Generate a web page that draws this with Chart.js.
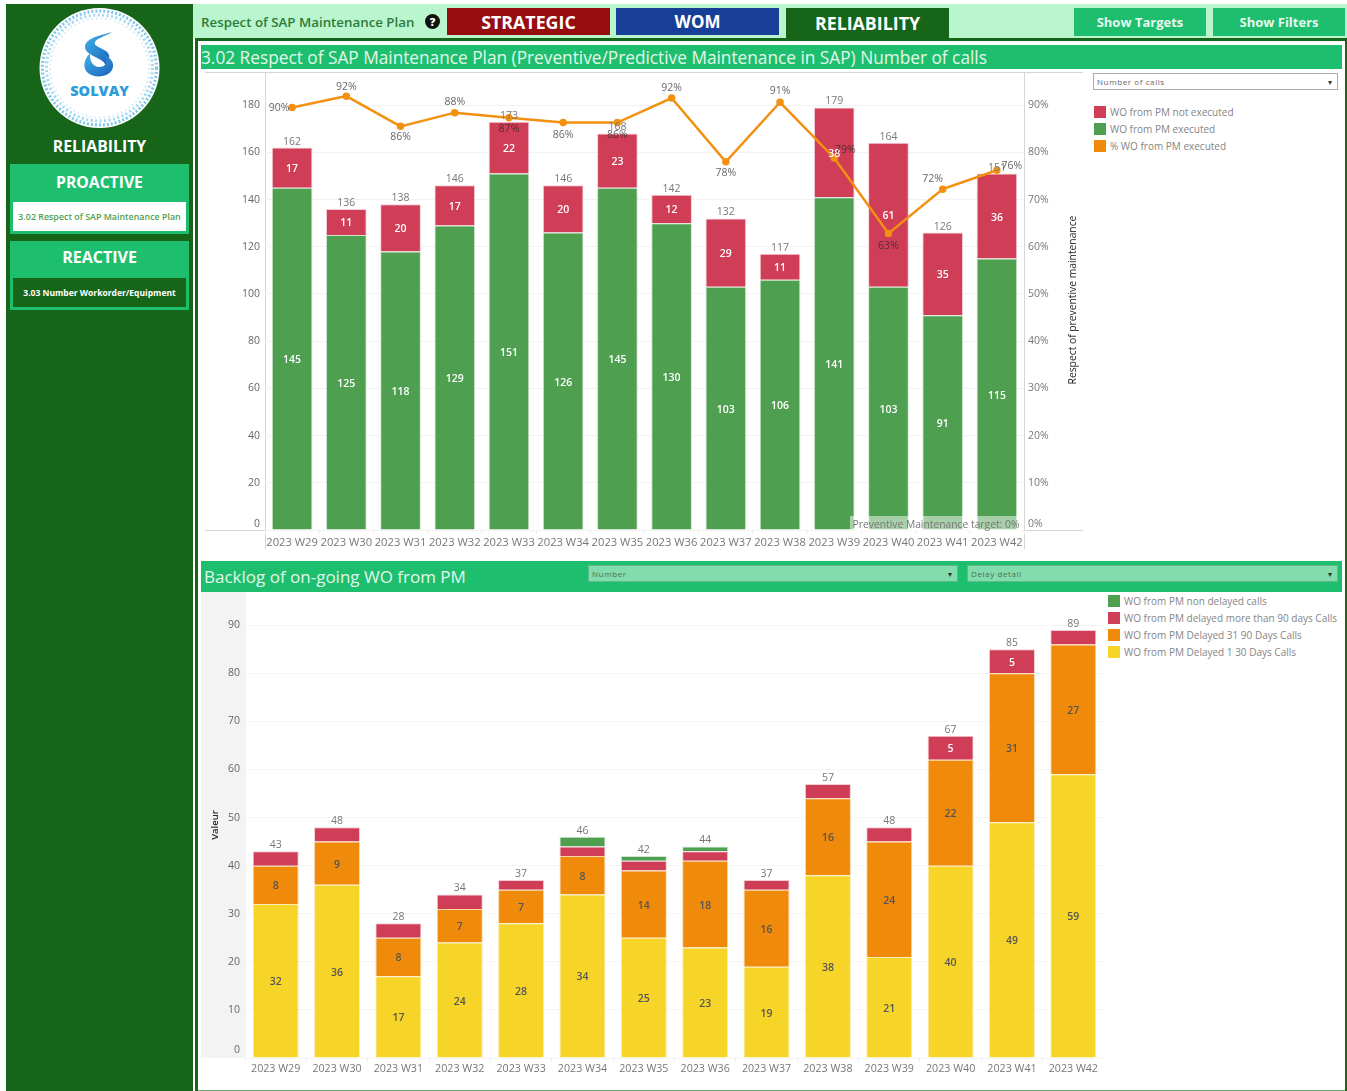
<!DOCTYPE html>
<html>
<head>
<meta charset="utf-8">
<title>Reliability</title>
<script src="https://cdn.jsdelivr.net/npm/chart.js@4"></script>
<style>
    html, body { margin: 0; padding: 0; background: #fff; }
    body { width: 1347px; height: 1091px; position: relative; overflow: hidden; font-family: "Open Sans", sans-serif; }
    .box { position: absolute; box-sizing: border-box; }
    .mid { display: flex; align-items: center; justify-content: center; white-space: nowrap; }
    .left { display: flex; align-items: center; white-space: nowrap; }
    canvas { position: absolute; display: block; }
    .drop { font-size: 8px; letter-spacing: .6px; padding-left: 3px; justify-content: space-between; }
    .drop i { font-style: normal; font-size: 8px; margin-right: 4px; color: #333; }
    .legend-item { position: absolute; height: 12px; font-size: 10px; color: #858585; white-space: nowrap; display: flex; align-items: center; }
    .legend-item b { display: block; width: 12px; height: 12px; margin-right: 4px; flex: none; }
    .rule { position: absolute; background: #d6d6d6; }
</style>
</head>
<body>
<!-- sidebar -->
<div class="box" style="left:6px;top:4px;width:187px;height:1087px;background:#176519"></div>
<svg class="box" style="left:38px;top:6px" width="124" height="124" viewBox="38 6 124 124">
    <defs>
        <linearGradient id="sGrad" x1="0" y1="0" x2="1" y2="1">
            <stop offset="0" stop-color="#3fb4e8"/>
            <stop offset="1" stop-color="#1d5fb8"/>
        </linearGradient>
    </defs>
    <circle cx="99.5" cy="68" r="60" fill="#fff"/>
    <circle cx="99.5" cy="68" r="57" fill="none" stroke="#7cc6ea" stroke-width="3" stroke-dasharray="2 2"/>
    <circle cx="99.5" cy="68" r="53" fill="none" stroke="#a5d8f0" stroke-width="3" stroke-dasharray="2 2.5"/>
    <circle cx="99.5" cy="68" r="49.5" fill="none" stroke="#cfeaf6" stroke-width="2" stroke-dasharray="1.5 3"/>
    <path d="M112 32 C103 35 87 37 85 46 C84 52 92 55 99 59 C103 61 105 63 105 65 C110 60 111 55 106 51 C100 47 93 46 95 42 C97 38 106 36 112 32 Z" fill="url(#sGrad)"/>
    <path d="M90 53 C84 59 82 68 88 73 C94 78 107 78 112 70 C115 64 112 59 106 56 C108 62 106 67 99 67 C93 67 89 60 90 53 Z" fill="url(#sGrad)"/>
    <text x="99.5" y="96" text-anchor="middle" font-family="Open Sans" font-weight="800" font-size="14.5" fill="#2a9cd8">SOLVAY</text>
</svg>
<div class="box mid" style="left:6px;top:136px;width:187px;height:20px;color:#fff;font-weight:700;font-size:15.8px">RELIABILITY</div>

<div class="box" style="left:10px;top:164px;width:179px;height:70px;background:#1dbf6e"></div>
<div class="box mid" style="left:10px;top:172px;width:179px;height:20px;color:#fff;font-weight:700;font-size:15.7px">PROACTIVE</div>
<div class="box mid" style="left:13px;top:202px;width:173px;height:29px;background:#fff;color:#4f9f51;font-weight:600;font-size:8.9px">3.02 Respect of SAP Maintenance Plan</div>

<div class="box" style="left:10px;top:241px;width:179px;height:69px;background:#1dbf6e"></div>
<div class="box mid" style="left:10px;top:247px;width:179px;height:20px;color:#fff;font-weight:700;font-size:16px">REACTIVE</div>
<div class="box mid" style="left:13px;top:278px;width:173px;height:29px;background:#176519;color:#fff;font-weight:700;font-size:8.5px">3.03 Number Workorder/Equipment</div>

<!-- top strip -->
<div class="box" style="left:193px;top:4px;width:1154px;height:34px;background:#b9f6cd"></div>
<div class="box left" style="left:201px;top:12px;height:20px;color:#2f7a3a;font-weight:600;font-size:13.3px">Respect of SAP Maintenance Plan</div>
<div class="box mid" style="left:425px;top:14px;width:15px;height:15px;border-radius:50%;background:#111;color:#fff;font-weight:800;font-size:11px">?</div>
<div class="box mid" style="left:447px;top:8px;width:163px;height:27px;background:#970d0f;color:#fff;font-weight:700;font-size:17.8px">STRATEGIC</div>
<div class="box mid" style="left:616px;top:8px;width:163px;height:27px;background:#173f97;color:#fff;font-weight:700;font-size:17px">WOM</div>
<div class="box" style="left:786px;top:8px;width:163px;height:32px;background:#176519"></div>
<div class="box mid" style="left:786px;top:8px;width:163px;height:30px;color:#fff;font-weight:700;font-size:17.8px">RELIABILITY</div>
<div class="box mid" style="left:1074px;top:8px;width:132px;height:28px;background:#1dbf6e;color:#e8f8ee;font-weight:700;font-size:13px">Show Targets</div>
<div class="box mid" style="left:1213px;top:8px;width:132px;height:28px;background:#1dbf6e;color:#e8f8ee;font-weight:700;font-size:13px">Show Filters</div>

<!-- dashboard frame -->
<div class="box" style="left:195px;top:38px;width:1152px;height:3px;background:#176519"></div>
<div class="box" style="left:195px;top:38px;width:3px;height:1053px;background:#176519"></div>
<div class="box" style="left:1345px;top:38px;width:2px;height:1053px;background:#176519"></div>
<div class="box" style="left:198px;top:1090px;width:1147px;height:1px;background:#6aa86e"></div>

<!-- top panel -->
<div class="box left" style="left:201px;top:45px;width:1141px;height:24px;background:#1dbf6e;color:#e3f7ea;font-size:17.25px">3.02 Respect of SAP Maintenance Plan (Preventive/Predictive Maintenance in SAP) Number of calls</div>
<div class="rule" style="left:205px;top:72px;width:878px;height:1px"></div>
<div class="rule" style="left:205px;top:530px;width:878px;height:1px"></div>
<div class="rule" style="left:265px;top:72px;width:1px;height:477px"></div>
<div class="rule" style="left:1024px;top:72px;width:1px;height:477px"></div>
<canvas id="callsChart" width="878" height="476" style="left:205px;top:73px"></canvas>
<div class="box mid" style="left:850px;top:516px;width:172px;height:15px;background:rgba(255,255,255,.5);color:#777;font-size:10.3px">Preventive Maintenance target: 0%</div>
<div class="box mid" style="left:972px;top:293px;width:200px;height:14px;color:#222;font-size:10.3px;transform:rotate(-90deg)">Respect of preventive maintenance</div>
<div class="box left drop" style="left:1093px;top:73px;width:245px;height:17px;background:#fff;border:1px solid #aaa;color:#666">Number of calls<i>▾</i></div>
<div id="callsLegend"></div>

<!-- bottom panel -->
<div class="box left" style="left:201px;top:561px;width:1141px;height:31px;background:#1dbf6e;color:#e3f7ea;font-size:17px;padding-left:3px">Backlog of on-going WO from PM</div>
<div class="box left drop" style="left:588px;top:565px;width:370px;height:17px;background:#83dcab;border:1px solid #62b98c;color:#4d6d58">Number<i>▾</i></div>
<div class="box left drop" style="left:967px;top:565px;width:371px;height:17px;background:#83dcab;border:1px solid #62b98c;color:#4d6d58">Delay detail<i>▾</i></div>
<div class="box" style="left:201px;top:592px;width:45px;height:466px;background:#f3f3f3"></div>
<canvas id="backlogChart" width="903" height="488" style="left:201px;top:592px"></canvas>
<div id="backlogLegend"></div>

<script>
const weeks = ["2023 W29", "2023 W30", "2023 W31", "2023 W32", "2023 W33", "2023 W34", "2023 W35",
    "2023 W36", "2023 W37", "2023 W38", "2023 W39", "2023 W40", "2023 W41", "2023 W42"];

// top chart
const pmExecuted = [145, 125, 118, 129, 151, 126, 145, 130, 103, 106, 141, 103, 91, 115];
const pmNotExecuted = [17, 11, 20, 17, 22, 20, 23, 12, 29, 11, 38, 61, 35, 36];
const pmExecutedPct = [89.5, 91.9, 85.5, 88.4, 87.3, 86.3, 86.3, 91.5, 78, 90.6, 78.8, 62.8, 72.2, 76.2];

// bottom chart
const delayed1to30 = [32, 36, 17, 24, 28, 34, 25, 23, 19, 38, 21, 40, 49, 59];
const delayed31to90 = [8, 9, 8, 7, 7, 8, 14, 18, 16, 16, 24, 22, 31, 27];
const delayedOver90 = [3, 3, 3, 3, 2, 2, 2, 2, 2, 3, 3, 5, 5, 3];
const nonDelayed = [0, 0, 0, 0, 0, 2, 1, 1, 0, 0, 0, 0, 0, 0];

const RED = "#cf3d56";
const GREEN = "#4f9f51";
const ORANGE = "#f08a0a";
const YELLOW = "#f7d428";
const FONT = "'Open Sans', sans-serif";

// where each % label sits relative to its point, the tableau labels dodge around
const pctLabelShift = [[-13, 1], [0, -9], [0, 11], [0, -11], [0, 11], [0, 12], [0, 12],
    [0, -10], [0, 11], [0, -11], [11, -8], [0, 12], [-10, -10], [15, -4]];

Chart.defaults.font.family = FONT;
Chart.defaults.animation = false;

function fixBox(scale, size) {
    if (scale.isHorizontal()) scale.height = size;
    else scale.width = size;
    scale.paddingTop = 0;
    scale.paddingBottom = 0;
    scale.paddingLeft = 0;
    scale.paddingRight = 0;
}

// chart.js has no data labels of its own
const barLabels = {
    id: "barLabels",
    afterDatasetsDraw(chart) {
        const ctx = chart.ctx;
        const bars = chart.data.datasets
            .map((ds, i) => ({ ds, meta: chart.getDatasetMeta(i) }))
            .filter(item => item.ds.type !== "line");
        ctx.save();
        ctx.textAlign = "center";
        ctx.textBaseline = "middle";
        ctx.font = "600 10.5px " + FONT;
        bars.forEach(({ ds, meta }) => {
            ctx.fillStyle = ds.labelColor;
            meta.data.forEach((bar, i) => {
                if (ds.data[i] < (ds.labelMin || 0)) return;
                ctx.fillText(ds.data[i], bar.x, (bar.y + bar.base) / 2 + 1.5);
            });
        });
        ctx.font = "10.5px " + FONT;
        ctx.fillStyle = "#777";
        const topBars = bars[bars.length - 1].meta.data;
        topBars.forEach((bar, i) => {
            const total = bars.reduce((sum, item) => sum + item.ds.data[i], 0);
            ctx.fillText(total, bar.x, bar.y - 6);
        });
        ctx.restore();
    }
};

const pctLabels = {
    id: "pctLabels",
    afterDatasetsDraw(chart) {
        const ctx = chart.ctx;
        const idx = chart.data.datasets.findIndex(ds => ds.type === "line");
        ctx.save();
        ctx.textAlign = "center";
        ctx.textBaseline = "middle";
        ctx.font = "10.5px " + FONT;
        ctx.fillStyle = "rgba(40,40,40,.72)";
        chart.getDatasetMeta(idx).data.forEach((pt, i) => {
            const shift = pctLabelShift[i];
            ctx.fillText(Math.round(pmExecutedPct[i]) + "%", pt.x + shift[0], pt.y + shift[1]);
        });
        ctx.restore();
    }
};

function xAxis(height, padding, fontSize) {
    return {
        stacked: true,
        afterFit: scale => fixBox(scale, height),
        border: { display: false },
        grid: { drawOnChartArea: false, tickLength: 4, color: "#eeeeee" },
        ticks: { color: "#777", font: { size: fontSize }, padding, maxRotation: 0, autoSkip: false }
    };
}

function makeLegend(id, items, left, top, step) {
    const holder = document.getElementById(id);
    items.forEach((item, i) => {
        const row = document.createElement("div");
        row.className = "legend-item";
        row.style.left = left + "px";
        row.style.top = top + i * step + "px";
        row.innerHTML = `<b style="background:${item.color}"></b>${item.name}`;
        holder.appendChild(row);
    });
}

function createCallsChart() {
    new Chart(document.querySelector("#callsChart").getContext("2d"), {
        data: {
            labels: weeks,
            datasets: [
                {
                    type: "line",
                    label: "% WO from PM executed",
                    data: pmExecutedPct,
                    yAxisID: "yRight",
                    order: 0,
                    borderColor: "#f2900f",
                    backgroundColor: "#f2900f",
                    borderWidth: 2.5,
                    pointRadius: 2.5,
                    tension: 0
                },
                {
                    type: "bar",
                    label: "WO from PM executed",
                    data: pmExecuted,
                    order: 1,
                    backgroundColor: GREEN,
                    borderColor: "#cfe5cf",
                    borderWidth: 1,
                    barPercentage: 0.75,
                    categoryPercentage: 1,
                    labelColor: "#fff"
                },
                {
                    type: "bar",
                    label: "WO from PM not executed",
                    data: pmNotExecuted,
                    order: 1,
                    backgroundColor: RED,
                    borderColor: "#f3cdd4",
                    borderWidth: 1,
                    barPercentage: 0.75,
                    categoryPercentage: 1,
                    labelColor: "#fff"
                }
            ]
        },
        options: {
            responsive: false,
            layout: { padding: 0, autoPadding: false },
            plugins: { legend: { display: false }, tooltip: { enabled: false } },
            scales: {
                x: xAxis(19, 2, 11.2),
                y: {
                    stacked: true,
                    min: 0,
                    max: 193.6,
                    afterFit: scale => fixBox(scale, 60),
                    border: { display: false },
                    grid: { color: "#f2f2f2", drawTicks: false },
                    ticks: {
                        stepSize: 20,
                        includeBounds: false,
                        padding: 5,
                        color: "#666",
                        font: { size: 10.5 },
                        // empty second line pushes the 0 up off the axis line
                        callback: v => (v === 0 ? ["0", ""] : String(v))
                    }
                },
                yRight: {
                    position: "right",
                    min: 0,
                    max: 96.8,
                    afterFit: scale => fixBox(scale, 59),
                    border: { display: false },
                    grid: { drawOnChartArea: false, drawTicks: false },
                    ticks: {
                        stepSize: 10,
                        includeBounds: false,
                        padding: 4,
                        color: "#777",
                        font: { size: 10.5 },
                        callback: v => (v === 0 ? ["0%", ""] : v + "%")
                    }
                }
            }
        },
        plugins: [barLabels, pctLabels]
    });

    makeLegend("callsLegend", [
        { name: "WO from PM not executed", color: RED },
        { name: "WO from PM executed", color: GREEN },
        { name: "% WO from PM executed", color: ORANGE }
    ], 1094, 106, 17);
}

function createBacklogChart() {
    const stack = (label, data, color, edge, labelColor, labelMin) => ({
        type: "bar",
        label,
        data,
        backgroundColor: color,
        borderColor: edge,
        borderWidth: 1,
        barPercentage: 0.75,
        categoryPercentage: 1,
        labelColor,
        labelMin
    });

    new Chart(document.querySelector("#backlogChart").getContext("2d"), {
        data: {
            labels: weeks,
            datasets: [
                stack("WO from PM Delayed 1 30 Days Calls", delayed1to30, YELLOW, "#fbeeb0", "#555", 5),
                stack("WO from PM Delayed 31 90 Days Calls", delayed31to90, ORANGE, "#fbd9a8", "#555", 5),
                stack("WO from PM delayed more than 90 days Calls", delayedOver90, RED, "#f3cdd4", "#fff", 5),
                stack("WO from PM non delayed calls", nonDelayed, GREEN, "#cfe5cf", "#fff", 5)
            ]
        },
        options: {
            responsive: false,
            layout: { padding: 0, autoPadding: false },
            plugins: { legend: { display: false }, tooltip: { enabled: false } },
            scales: {
                x: xAxis(22, 1, 10.7),
                y: {
                    stacked: true,
                    min: 0,
                    max: 96.9,
                    afterFit: scale => fixBox(scale, 44),
                    border: { display: false },
                    grid: { color: "#f4f4f4", drawTicks: false },
                    title: {
                        display: true,
                        text: "Valeur",
                        color: "#222",
                        font: { size: 9.5, weight: "600" },
                        padding: { top: 9, bottom: 0 }
                    },
                    ticks: {
                        stepSize: 10,
                        includeBounds: false,
                        padding: 5,
                        color: "#666",
                        font: { size: 10.5, lineHeight: 1.6 },
                        callback: v => (v === 0 ? ["0", ""] : String(v))
                    }
                }
            }
        },
        plugins: [barLabels]
    });

    makeLegend("backlogLegend", [
        { name: "WO from PM non delayed calls", color: GREEN },
        { name: "WO from PM delayed more than 90 days Calls", color: RED },
        { name: "WO from PM Delayed 31 90 Days Calls", color: ORANGE },
        { name: "WO from PM Delayed 1 30 Days Calls", color: YELLOW }
    ], 1108, 595, 17);
}

createCallsChart();
createBacklogChart();
</script>
</body>
</html>
